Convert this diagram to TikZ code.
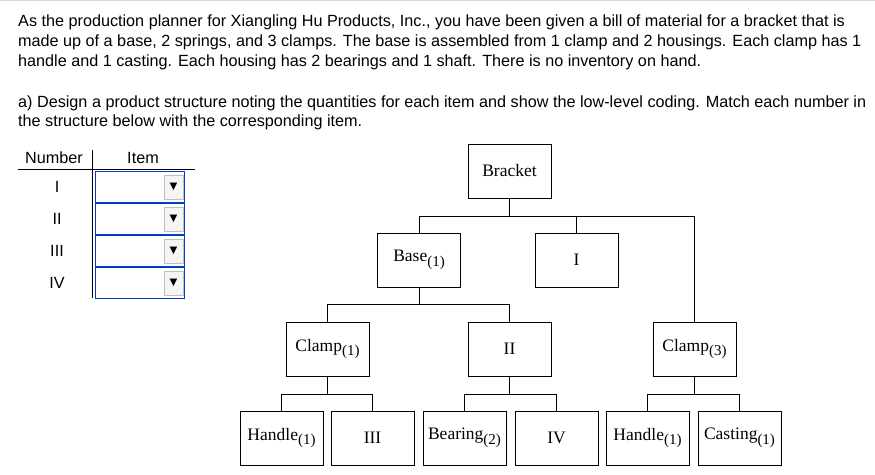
\documentclass[tikz,border=0pt]{standalone}
\usepackage{fontspec}
\setmainfont{Liberation Sans}
\newfontfamily\serifx{Liberation Serif}
\newcommand{\qsub}[1]{\raisebox{-4.5pt}{\fontsize{15}{15}\selectfont(#1)}}
\begin{document}
\begin{tikzpicture}[x=1pt,y=-1pt,
  txt/.style={anchor=base west,inner sep=0,font=\fontsize{16.2}{18}\selectfont},
  bx/.style={draw,line width=1pt,minimum width=83pt,minimum height=54pt,inner sep=0,font=\serifx\fontsize{17.5}{19}\selectfont},
  ln/.style={line width=1pt},
  dd/.style={draw=blue!70!cyan!80!black,line width=1pt,minimum width=89pt,minimum height=31pt,inner sep=0}]
\useasboundingbox (0,0) rectangle (875,474);
\draw[gray!30] (0,0.5) -- (875,0.5);
\node[txt] (t1) at (18,26) {As the production planner for Xiangling Hu Products, Inc., you have been given a bill of material for a bracket that is};
\node[txt] (t2) at (18,46) {made up of a base, 2 springs, and 3 clamps. The base is assembled from 1 clamp and 2 housings. Each clamp has 1};
\node[txt] (t3) at (18,66) {handle and 1 casting. Each housing has 2 bearings and 1 shaft. There is no inventory on hand.};
\node[txt] (t4) at (18,107) {a) Design a product structure noting the quantities for each item and show the low-level coding. Match each number in};
\node[txt] (t5) at (18,126) {the structure below with the corresponding item.};
% table
\node[txt,anchor=base] (hn) at (54,163) {Number};
\node[txt,anchor=base] (hi) at (143,163) {Item};
\draw (18,169) -- (195,169);
\draw (92,150) -- (92,298);
\foreach \r/\lab [count=\i] in {187/I,219/II,251/III,283/IV}{
  \node[dd] (d\i) at (139.5,\r) {};
  \node[draw=gray!50,fill=gray!8,minimum width=19pt,minimum height=24pt,inner sep=0] (b\i) at (173.5,\r) {};
  \node[inner sep=0,font=\fontsize{13}{13}\selectfont] (a\i) at (b\i) {\char"25BC};
  \node[txt,anchor=base] (n\i) at (57,\r+5) {\lab};
}
% tree
\node[bx] (br) at (509.5,171) {Bracket};
\node[bx] (ba) at (419,260) {Base\qsub{1}};
\node[bx] (i1) at (576.5,260) {I};
\node[bx] (c1) at (327.5,349) {Clamp\qsub{1}};
\node[bx] (i2) at (509.5,349) {II};
\node[bx] (c3) at (694.5,349) {Clamp\qsub{3}};
\node[bx] (h1) at (281.5,438) {Handle\qsub{1}};
\node[bx] (i3) at (372.5,438) {III};
\node[bx] (be) at (464.5,438) {Bearing\qsub{2}};
\node[bx] (i4) at (556.5,438) {IV};
\node[bx] (h2) at (647.5,438) {Handle\qsub{1}};
\node[bx] (ca) at (739.5,438) {Casting\qsub{1}};
\draw[ln] (br.south) -- ++(0,18) coordinate (bb);
\draw[ln] (ba.north) |- (bb) -| (c3.north);
\draw[ln] (i1.north) -- (i1.north |- bb);
\draw[ln] (ba.south) -- ++(0,17) coordinate (bs);
\draw[ln] (c1.north) |- (bs) -| (i2.north);
\draw[ln] (c1.south) -- ++(0,18) coordinate (cs);
\draw[ln] (h1.north) |- (cs) -| (i3.north);
\draw[ln] (i2.south) -- ++(0,18) coordinate (is);
\draw[ln] (be.north) |- (is) -| (i4.north);
\draw[ln] (c3.south) -- ++(0,18) coordinate (ks);
\draw[ln] (h2.north) |- (ks) -| (ca.north);
\end{tikzpicture}
\end{document}
